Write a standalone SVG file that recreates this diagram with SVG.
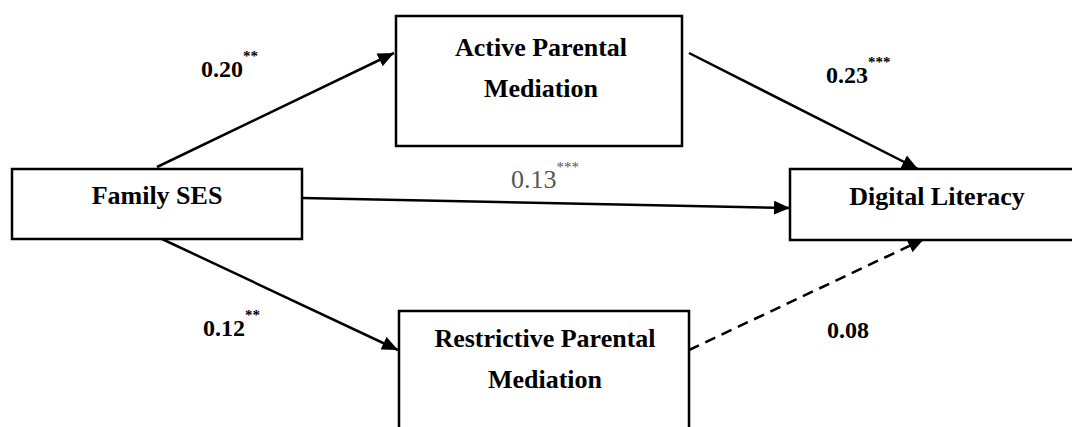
<svg xmlns="http://www.w3.org/2000/svg" width="1072" height="427" viewBox="0 0 1072 427">
<defs>
<style>
.box{fill:#fff;stroke:#000;stroke-width:2.5}
.lbl{font-family:'Liberation Serif',serif;font-weight:bold;font-size:26px;fill:#000;text-anchor:middle}
.coef{font-family:'Liberation Serif',serif;font-weight:bold;font-size:24px;fill:#000}
.coefg{font-family:'Liberation Serif',serif;font-size:26px;fill:#555}
.sup{font-size:15px}
.conn{stroke:#000;stroke-width:2.5;fill:none;marker-end:url(#ah)}
.dash{stroke-dasharray:11 7}
</style>
<marker id="ah" markerUnits="userSpaceOnUse" markerWidth="16" markerHeight="14" refX="16" refY="7" orient="auto">
<path d="M0,0 L16,7 L0,14 Z" fill="#000"/>
</marker>
</defs>
<rect width="1072" height="427" fill="#fff"/>
<g id="connectors">
<line class="conn" x1="157" y1="167" x2="394" y2="53"/>
<line class="conn" x1="689" y1="53" x2="918" y2="169"/>
<line class="conn" x1="302" y1="198" x2="790" y2="208"/>
<line class="conn" x1="162" y1="239" x2="398" y2="350"/>
<line class="conn dash" x1="689" y1="350" x2="924" y2="239"/>
</g>
<g id="node-family">
<rect class="box" x="12" y="169" width="290" height="70"/>
<text class="lbl" x="157" y="204">Family SES</text>
</g>
<g id="node-active">
<rect class="box" x="396" y="16" width="286" height="130"/>
<text class="lbl" x="541" y="56">Active Parental</text>
<text class="lbl" x="541" y="97">Mediation</text>
</g>
<g id="node-digital">
<rect class="box" x="790" y="169" width="290" height="71"/>
<text class="lbl" x="937" y="205">Digital Literacy</text>
</g>
<g id="node-restrictive">
<rect class="box" x="399" y="311" width="290" height="130"/>
<text class="lbl" x="545" y="347">Restrictive Parental</text>
<text class="lbl" x="545" y="388">Mediation</text>
</g>
<g id="labels">
<text class="coef" x="201" y="77">0.20<tspan class="sup" dy="-16">**</tspan></text>
<text class="coef" x="826" y="83">0.23<tspan class="sup" dy="-16">***</tspan></text>
<text class="coefg" x="511" y="188">0.13<tspan class="sup" dy="-16">***</tspan></text>
<text class="coef" x="203" y="336">0.12<tspan class="sup" dy="-16">**</tspan></text>
<text class="coef" x="827" y="338">0.08</text>
</g>
</svg>
